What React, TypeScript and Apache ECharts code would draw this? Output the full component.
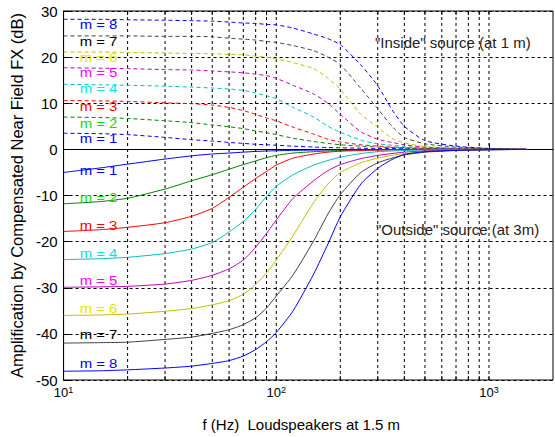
import React, { useEffect, useRef } from 'react';
import * as echarts from 'echarts';

const freqs = [10, 15, 20, 30, 40, 50, 60, 70, 80, 90, 100, 120, 150, 175, 200, 250, 300, 350, 400, 500, 700, 1000, 1500];

// "Inside" source (at 1 m) – dashed curves, dB
const inside1 = [3.5, 3.4, 3.2, 2.6, 2.1, 1.8, 1.5, 1.3, 1.1, 1.0, 0.9, 0.7, 0.5, 0.4, 0.35, 0.25, 0.2, 0.17, 0.15, 0.1, 0.05, 0.03, 0];
const inside2 = [7.0, 6.9, 6.7, 6.2, 5.8, 5.3, 4.9, 4.5, 4.0, 3.6, 3.2, 2.4, 1.7, 1.3, 1.0, 0.7, 0.5, 0.4, 0.3, 0.2, 0.1, 0.05, 0];
const inside3 = [10.6, 10.5, 10.4, 10.1, 9.9, 9.6, 9.1, 8.4, 7.6, 6.8, 6.2, 4.8, 3.3, 2.2, 1.6, 1.0, 0.7, 0.5, 0.4, 0.25, 0.1, 0.05, 0];
const inside4 = [14.1, 14.0, 13.9, 13.7, 13.5, 13.3, 13.1, 12.8, 12.2, 11.6, 11.0, 9.1, 7.0, 5.0, 3.7, 2.0, 1.2, 0.9, 0.6, 0.35, 0.15, 0.05, 0];
const inside5 = [17.7, 17.6, 17.5, 17.3, 17.2, 17.0, 16.8, 16.6, 16.3, 16.0, 15.4, 13.9, 12.0, 10.0, 7.6, 3.8, 2.2, 1.5, 1.0, 0.5, 0.2, 0.1, 0];
const inside6 = [21.1, 21.1, 21.0, 20.9, 20.8, 20.7, 20.6, 20.5, 20.2, 20.0, 19.6, 18.8, 17.5, 15.4, 13.0, 7.6, 4.8, 2.4, 1.4, 0.6, 0.3, 0.1, 0];
const inside7 = [24.6, 24.6, 24.6, 24.5, 24.5, 24.4, 24.1, 23.9, 23.7, 23.4, 23.2, 22.5, 21.4, 20.0, 18.4, 13.2, 8.8, 5.0, 2.6, 1.2, 0.5, 0.2, 0];
const inside8 = [28.2, 28.2, 28.1, 28.0, 27.9, 27.8, 27.6, 27.4, 27.3, 27.1, 27.0, 26.3, 25.0, 24.0, 22.7, 18.3, 13.8, 8.6, 5.0, 1.9, 0.7, 0.2, 0];

// "Outside" source (at 3 m) – solid curves, dB
const outside1 = [-5.0, -4.0, -3.2, -2.1, -1.4, -1.0, -0.8, -0.6, -0.45, -0.35, -0.3, -0.22, -0.15, -0.12, -0.1, -0.07, -0.05, -0.04, -0.03, -0.02, 0, 0, 0];
const outside2 = [-11.8, -11.3, -10.6, -8.6, -6.8, -5.5, -4.3, -3.3, -2.5, -1.8, -1.3, -0.8, -0.5, -0.35, -0.25, -0.15, -0.1, -0.07, -0.05, -0.03, -0.01, 0, 0];
const outside3 = [-17.8, -17.4, -16.9, -15.9, -14.5, -12.8, -10.4, -8.2, -6.3, -4.8, -3.4, -1.9, -1.0, -0.6, -0.4, -0.25, -0.15, -0.1, -0.07, -0.05, -0.02, 0, 0];
const outside4 = [-23.9, -23.7, -23.4, -22.6, -21.6, -20.2, -17.9, -15.6, -13.0, -10.2, -8.0, -5.5, -3.4, -2.4, -1.7, -0.9, -0.5, -0.35, -0.25, -0.15, -0.05, 0, 0];
const outside5 = [-29.9, -29.8, -29.7, -29.2, -28.4, -27.3, -25.9, -24.0, -21.2, -18.2, -15.3, -10.6, -6.8, -4.6, -3.3, -2.0, -1.3, -0.9, -0.6, -0.35, -0.15, -0.05, 0];
const outside6 = [-36.0, -35.9, -35.7, -35.1, -34.5, -33.7, -32.8, -31.4, -29.3, -26.8, -24.0, -18.7, -11.5, -7.5, -5.0, -2.9, -1.9, -1.3, -0.9, -0.5, -0.2, -0.07, 0];
const outside7 = [-42.0, -41.9, -41.8, -41.2, -40.7, -39.9, -39.1, -38.0, -36.5, -34.4, -31.8, -27.2, -19.8, -14.0, -9.8, -5.0, -2.9, -1.9, -1.2, -0.6, -0.25, -0.1, 0];
const outside8 = [-48.1, -48.0, -47.8, -47.4, -47.0, -46.4, -45.8, -44.8, -43.4, -41.7, -39.7, -35.0, -27.0, -20.5, -14.6, -7.5, -4.1, -2.2, -1.1, -0.5, -0.2, -0.08, 0];

// Where the "m = k" labels sit (dB), inside and outside
const insideLabelDb = [2.4, 5.7, 9.3, 13.2, 16.7, 20.0, 23.4, 27.0];
const outsideLabelDb = [-4.6, -10.3, -16.4, -22.5, -28.4, -34.5, -40.1, -46.3];
const labelFreq = 11.9;

// Dashed vertical grid frequencies
const gridFreqs = [20, 30, 40, 50, 60, 70, 80, 90, 100, 200, 300, 400, 500, 600, 700, 800, 900, 1000];

const lineColors = ['#0000ff', '#008000', '#ff0000', '#00bfbf', '#bf00bf', '#bfbf00', '#404040', '#0000ff'];
const labelColors = ['#0000ff', '#00e600', '#ff0000', '#00e6e6', '#ff00ff', '#e6e600', '#000000', '#0000ff'];

const FONT = '"Liberation Sans", Arial, Helvetica, sans-serif';

export default function App() {
  const ref = useRef<HTMLDivElement>(null);

  useEffect(() => {
    if (!ref.current) return;
    const chart = echarts.init(ref.current, null, { renderer: 'svg' });

    const inside = [inside1, inside2, inside3, inside4, inside5, inside6, inside7, inside8];
    const outside = [outside1, outside2, outside3, outside4, outside5, outside6, outside7, outside8];

    const makeSeries = (vals: number[], i: number, dashed: boolean) => ({
      type: 'line',
      data: freqs.map((f, j) => [f, vals[j]]),
      showSymbol: false,
      symbol: 'none',
      smooth: 0.2,
      silent: true,
      z: dashed ? 3 : 4,
      lineStyle: { color: lineColors[i], width: 1, type: dashed ? [4, 3] : 'solid' },
    });

    const series: any[] = [
      {
        type: 'custom',
        z: 1,
        silent: true,
        data: gridFreqs.map((f) => [f, 0]),
        encode: { x: 0, y: 1 },
        renderItem: (params: any, api: any) => {
          const x = api.coord([api.value(0), 0])[0];
          const cs = params.coordSys;
          return {
            type: 'group',
            children: [
              {
                type: 'line',
                shape: { x1: x, y1: cs.y, x2: x, y2: cs.y + cs.height },
                style: { stroke: '#000', lineWidth: 1, lineDash: [3, 3] },
              },
              {
                type: 'line',
                shape: { x1: x, y1: cs.y + cs.height - 4, x2: x, y2: cs.y + cs.height },
                style: { stroke: '#000', lineWidth: 1 },
              },
              {
                type: 'line',
                shape: { x1: x, y1: cs.y, x2: x, y2: cs.y + 4 },
                style: { stroke: '#000', lineWidth: 1 },
              },
            ],
          };
        },
      },
    ];
    inside.forEach((v, i) => series.push(makeSeries(v, i, true)));
    outside.forEach((v, i) => series.push(makeSeries(v, i, false)));

    const annotations = [
      {
        type: 'text',
        x: 375,
        y: 42,
        z: 100,
        style: { text: '"Inside" source (at 1 m)', fontSize: 15, fontFamily: FONT, fill: '#222', verticalAlign: 'middle', align: 'left' },
      },
      {
        type: 'text',
        x: 376,
        y: 229,
        z: 100,
        style: { text: '"Outside" source (at 3m)', fontSize: 15, fontFamily: FONT, fill: '#222', verticalAlign: 'middle', align: 'left' },
      },
    ];

    chart.setOption({
      animation: false,
      backgroundColor: '#ffffff',
      textStyle: { fontFamily: FONT },
      grid: {
        left: 63,
        right: 2,
        top: 11,
        bottom: 54,
        show: true,
        borderColor: '#000',
        borderWidth: 1,
        backgroundColor: 'transparent',
      },
      xAxis: {
        type: 'log',
        logBase: 10,
        min: 10,
        max: 2000,
        name: 'f (Hz)  Loudspeakers at 1.5 m',
        nameLocation: 'middle',
        nameGap: 37,
        nameTextStyle: { fontSize: 15, color: '#000', fontFamily: FONT, padding: [0, 14, 0, 0] },
        axisLine: { show: true, lineStyle: { color: '#000', width: 1 } },
        axisTick: { show: true, inside: true, length: 6, lineStyle: { color: '#000' } },
        splitLine: { show: false },
        axisLabel: {
          margin: 5,
          showMaxLabel: false,
          formatter: (v: number) => {
            const e = Math.log10(v);
            if (Math.abs(e - Math.round(e)) > 1e-6) return '';
            return `{b|10}{e|${Math.round(e)}}`;
          },
          rich: {
            b: { fontSize: 13, lineHeight: 14, padding: [6, 0, 0, 0], verticalAlign: 'bottom', color: '#000', fontFamily: FONT },
            e: { fontSize: 9, lineHeight: 10, verticalAlign: 'top', color: '#000', fontFamily: FONT },
          },
        },
      },
      yAxis: {
        type: 'value',
        min: -50,
        max: 30,
        interval: 10,
        name: 'Amplification by Compensated Near Field FX (dB)',
        nameLocation: 'middle',
        nameGap: 28,
        nameTextStyle: { fontSize: 16.5, color: '#000', fontFamily: FONT },
        axisLine: { show: true, lineStyle: { color: '#000', width: 1 } },
        axisTick: { show: true, inside: true, length: 6, lineStyle: { color: '#000' } },
        axisLabel: { fontSize: 15, color: '#000', margin: 6, fontFamily: FONT },
        splitLine: { show: true, lineStyle: { color: '#000', width: 1, type: [3, 3] } },
      },
      graphic: annotations,
      series,
    });

    // "m = k" labels placed through the axes' own scales
    const labelItems: any[] = [];
    const addLabel = (db: number, i: number) => {
      const p = chart.convertToPixel({ gridIndex: 0 }, [labelFreq, db]) as number[];
      labelItems.push({
        type: 'text',
        x: p[0],
        y: p[1],
        scaleX: 1.15,
        z: 50,
        silent: true,
        style: {
          text: `m = ${i + 1}`,
          fontSize: 13,
          fontFamily: FONT,
          fill: labelColors[i],
          verticalAlign: 'middle',
          align: 'left',
        },
      });
    };
    insideLabelDb.forEach((db, i) => addLabel(db, i));
    outsideLabelDb.forEach((db, i) => addLabel(db, i));

    chart.setOption({ graphic: [...annotations, ...labelItems] });

    return () => {
      chart.dispose();
    };
  }, []);

  return (
    <div
      ref={ref}
      style={{ position: 'absolute', left: 0, top: 0, width: 555, height: 437, background: '#fff' }}
    />
  );
}
